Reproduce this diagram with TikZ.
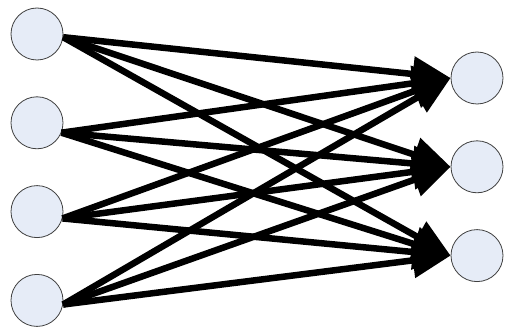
\documentclass[tikz,border=0pt]{standalone}
\usepackage{tikz}
\usetikzlibrary{positioning,arrows.meta}

\definecolor{unitfill}{RGB}{230,236,247}

\begin{document}
\begin{tikzpicture}[
  x=1pt, y=-1pt,
  node distance=36pt,
  unit/.style={circle, draw=black!75, line width=0.8pt, fill=unitfill,
               minimum size=52pt, inner sep=0pt},
  arrow/.style={-{Triangle[length=38pt, width=34pt]}, line width=6.5pt}
]
\useasboundingbox (0,0) rectangle (505,326);

\node[unit] at (37,34) (in1) {};
\node[unit, below=of in1] (in2) {};
\node[unit, below=of in2] (in3) {};
\node[unit, below=of in3] (in4) {};

\node[unit] at (477,78) (out1) {};
\node[unit, below=of out1] (out2) {};
\node[unit, below=of out2] (out3) {};

\draw[arrow] (in1.-7)  -- (out1.west);
\draw[arrow] (in1.-7)  -- (out2.west);
\draw[arrow] (in1.-7)  -- (out3.west);
\draw[arrow] (in2.-22) -- (out1.west);
\draw[arrow] (in2.-22) -- (out2.west);
\draw[arrow] (in2.-22) -- (out3.west);
\draw[arrow] (in3.-15) -- (out1.west);
\draw[arrow] (in3.-15) -- (out2.west);
\draw[arrow] (in3.-15) -- (out3.west);
\draw[arrow] (in4.-9)  -- (out1.west);
\draw[arrow] (in4.-9)  -- (out2.west);
\draw[arrow] (in4.-9)  -- (out3.west);
\end{tikzpicture}
\end{document}
